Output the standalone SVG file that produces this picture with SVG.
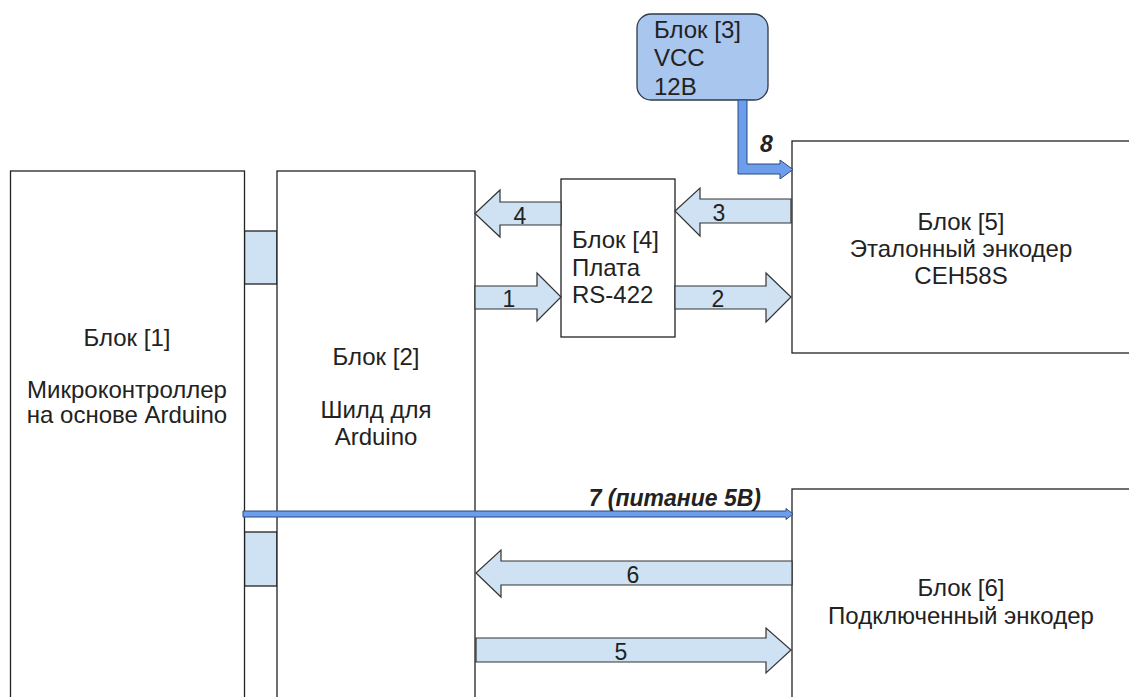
<svg xmlns="http://www.w3.org/2000/svg" width="1129" height="697" viewBox="0 0 1129 697">
<style>
.box{fill:#ffffff;stroke:#222;stroke-width:1.3}
.conn{fill:#cfe2f3;stroke:#222;stroke-width:1.3}
.arr{fill:#cfe2f3;stroke:#333;stroke-width:1.2}
.pwr{fill:#6d9eeb;stroke:#2b4a80;stroke-width:1}
.t{font-family:"Liberation Sans",Arial,sans-serif;font-size:24px;fill:#222}
.n{font-size:23px}
.c{text-anchor:middle}
.b{font-weight:bold;font-style:italic;font-size:23px}
</style>
<rect width="1129" height="697" fill="#ffffff"/>
<g id="conn12a"><rect class="conn" x="244.5" y="231" width="32.5" height="53"/></g>
<g id="conn12b"><rect class="conn" x="244.5" y="532" width="32.5" height="54"/></g>
<g id="block1">
  <rect class="box" x="10.5" y="171" width="234" height="540"/>
  <text class="t c" x="127" y="346">Блок [1]</text>
  <text class="t c" x="127" y="398">Микроконтроллер</text>
  <text class="t c" x="127" y="423">на основе Arduino</text>
</g>
<g id="block2">
  <rect class="box" x="277" y="171" width="198" height="540"/>
  <text class="t c" x="376" y="365">Блок [2]</text>
  <text class="t c" x="376" y="418">Шилд для</text>
  <text class="t c" x="376" y="445">Arduino</text>
</g>
<g id="block3">
  <rect x="637" y="14" width="131" height="86" rx="14" fill="#a9c6ee" stroke="#2e3a4a" stroke-width="1.3"/>
  <text class="t" x="654" y="38">Блок [3]</text>
  <text class="t" x="654" y="66">VCC</text>
  <text class="t" x="654" y="95">12В</text>
</g>
<g id="block4">
  <rect class="box" x="561" y="179" width="114" height="158"/>
  <text class="t" x="572" y="248">Блок [4]</text>
  <text class="t" x="572" y="276">Плата</text>
  <text class="t" x="572" y="303">RS-422</text>
</g>
<g id="block5">
  <rect class="box" x="792" y="141" width="360" height="212"/>
  <text class="t c" x="961" y="230">Блок [5]</text>
  <text class="t c" x="961" y="257">Эталонный энкодер</text>
  <text class="t c" x="961" y="284">CEH58S</text>
</g>
<g id="block6">
  <rect class="box" x="792" y="489" width="360" height="240"/>
  <text class="t c" x="961" y="596">Блок [6]</text>
  <text class="t c" x="961" y="624">Подключенный энкодер</text>
</g>
<g id="connectors">
  <polygon class="pwr" points="738,100 747,100 747,164 780,164 780,160 793,169.5 780,179 780,174 738,174"/>
  <text class="t b" x="760" y="152">8</text>
  <polygon class="pwr" points="243,511 786,511 786,508.5 793,514 786,519.5 786,517 243,517"/>
  <text class="t b" x="761" y="506" text-anchor="end">7 (питание 5В)</text>
  <polygon class="arr" points="561,202 500,202 500,190 475,213.5 500,237 500,225 561,225"/>
  <text class="t n c" x="520" y="224">4</text>
  <polygon class="arr" points="791,199 700,199 700,188 675,211 700,236 700,223 791,223"/>
  <text class="t n c" x="719" y="221">3</text>
  <polygon class="arr" points="475,286 537,286 537,273 561,297 537,321 537,309 475,309"/>
  <text class="t n c" x="509" y="307">1</text>
  <polygon class="arr" points="675,286 766,286 766,273 791,297 766,322 766,309 675,309"/>
  <text class="t n c" x="718" y="307">2</text>
  <polygon class="arr" points="792,561 501,561 501,550 476,573 501,597 501,585 792,585"/>
  <text class="t n c" x="633" y="583">6</text>
  <polygon class="arr" points="476,638 766,638 766,628 791,650 766,673 766,662 476,662"/>
  <text class="t n c" x="621" y="660">5</text>
</g>
</svg>
